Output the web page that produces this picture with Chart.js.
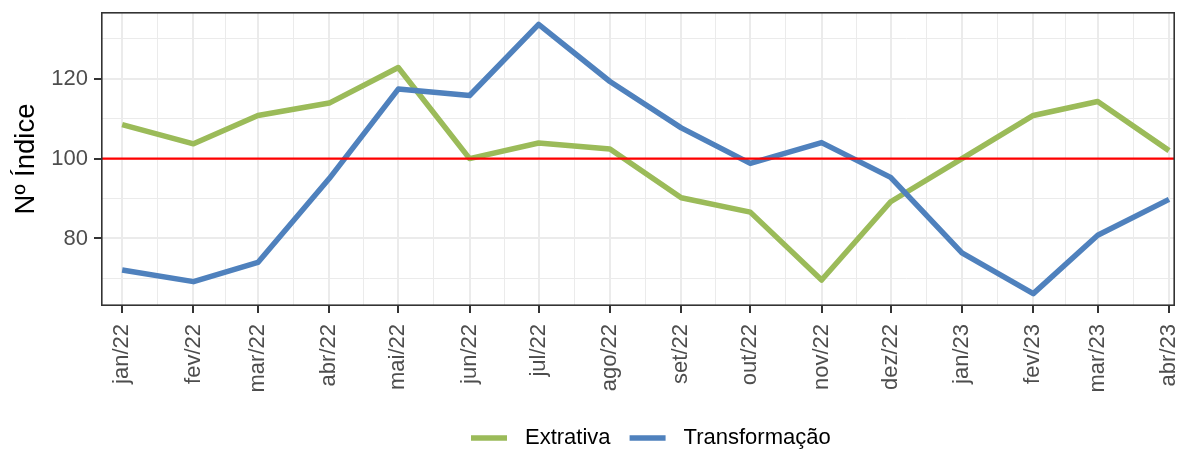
<!DOCTYPE html>
<html>
<head>
<meta charset="utf-8">
<script src="https://cdn.jsdelivr.net/npm/chart.js@4"></script>
<style>
  html, body { margin: 0; padding: 0; background: #fff; }
  #wrap { width: 1179px; height: 450px; }
</style>
</head>
<body>
<div id="wrap"><canvas id="chart"></canvas></div>
<script>
// months shown on the x axis
const monthLabels = ["jan/22", "fev/22", "mar/22", "abr/22", "mai/22", "jun/22", "jul/22", "ago/22",
  "set/22", "out/22", "nov/22", "dez/22", "jan/23", "fev/23", "mar/23", "abr/23"];
const monthDates = ["2022-01-01", "2022-02-01", "2022-03-01", "2022-04-01", "2022-05-01", "2022-06-01",
  "2022-07-01", "2022-08-01", "2022-09-01", "2022-10-01", "2022-11-01", "2022-12-01",
  "2023-01-01", "2023-02-01", "2023-03-01", "2023-04-01"];

const extrativa = [108.5, 103.7, 110.8, 113.9, 122.8, 100.0, 103.9, 102.4, 90.2, 86.6, 69.6, 89.2, 100.0, 110.8, 114.3, 102.0];
const transformacao = [72.1, 69.2, 74.0, 95.0, 117.4, 115.8, 133.6, 119.3, 107.7, 98.8, 104.0, 95.3, 76.4, 66.2, 80.8, 89.8];

const refValue = 100;
const yMajor = [80, 100, 120];
const yMinor = [70, 90, 110, 130];

const FONT = "'Liberation Sans', Arial, Helvetica, sans-serif";
const GREEN = "#9BBB59";
const BLUE = "#4F81BD";

const dayMs = 86400000;
const origin = Date.parse(monthDates[0]);
const monthDays = monthDates.map(d => (Date.parse(d) - origin) / dayMs);
const xMin = -9.2, xMax = 457.6;

const toPoints = vals => vals.map((v, i) => ({ x: monthDays[i], y: v }));

// dark box round the panel (theme_bw look)
const frame = {
  id: "frame",
  afterDraw(chart) {
    const a = chart.chartArea, ctx = chart.ctx;
    ctx.save();
    ctx.strokeStyle = "#333333";
    ctx.lineWidth = 1.6;
    ctx.strokeRect(a.left + 0.8, a.top + 0.8, a.right - a.left - 1.6, a.bottom - a.top - 1.6);
    ctx.restore();
  }
};

const legendBottom = {
  id: "legendBottom",
  afterDraw(chart) {
    const ctx = chart.ctx;
    const items = [
      { text: "Extrativa", color: GREEN },
      { text: "Transformação", color: BLUE }
    ];
    ctx.save();
    ctx.font = "22px " + FONT;
    ctx.textBaseline = "middle";
    ctx.textAlign = "left";
    let x = 471;
    const y = 438;
    items.forEach(it => {
      ctx.fillStyle = it.color;
      ctx.fillRect(x, y - 2.75, 36, 5.5);
      x += 36 + 18;
      ctx.fillStyle = "#000";
      ctx.fillText(it.text, x, y);
      x += ctx.measureText(it.text).width + 19;
    });
    ctx.restore();
  }
};

new Chart(document.getElementById("chart"), {
  type: "line",
  data: {
    datasets: [
      {
        label: "ref",
        data: [{ x: xMin, y: refValue }, { x: xMax, y: refValue }],
        borderColor: "#FF0000",
        borderWidth: 2.2,
        pointRadius: 0,
        order: 0
      },
      {
        label: "Transformação",
        data: toPoints(transformacao),
        borderColor: BLUE,
        backgroundColor: BLUE,
        borderWidth: 5.5,
        pointRadius: 0,
        borderJoinStyle: "round",
        borderCapStyle: "butt",
        order: 1
      },
      {
        label: "Extrativa",
        data: toPoints(extrativa),
        borderColor: GREEN,
        backgroundColor: GREEN,
        borderWidth: 5.5,
        pointRadius: 0,
        borderJoinStyle: "round",
        borderCapStyle: "butt",
        order: 2
      }
    ]
  },
  options: {
    responsive: true,
    maintainAspectRatio: false,
    animation: false,
    layout: { padding: { top: 12, right: 4, bottom: 44, left: 0 } },
    plugins: {
      legend: { display: false },
      tooltip: { enabled: false }
    },
    scales: {
      x: {
        type: "linear",
        min: xMin,
        max: xMax,
        afterBuildTicks(scale) {
          const t = [];
          monthDays.forEach((d, i) => {
            t.push({ value: d, minor: false, label: monthLabels[i] });
            if (i < monthDays.length - 1) t.push({ value: (d + monthDays[i + 1]) / 2, minor: true });
          });
          scale.ticks = t;
        },
        afterFit(scale) {
          scale.height = 100;
          scale.paddingLeft = 0;
          scale.paddingRight = 0;
        },
        ticks: {
          autoSkip: false,
          minRotation: 90,
          maxRotation: 90,
          padding: 11,
          color: "#4D4D4D",
          font: { family: FONT, size: 22 },
          callback(value, index, ticks) {
            const t = ticks[index];
            return t.minor ? "" : t.label;
          }
        },
        grid: {
          color: "#EBEBEB",
          lineWidth: ctx => (ctx.tick && ctx.tick.minor ? 1 : 2),
          tickLength: 7,
          tickColor: ctx => (ctx.tick && ctx.tick.minor ? "rgba(0,0,0,0)" : "#333333"),
          tickWidth: 2
        },
        border: { display: false }
      },
      y: {
        min: 63.1,
        max: 136.7,
        afterBuildTicks(scale) {
          const t = yMinor.map(v => ({ value: v, minor: true }))
            .concat(yMajor.map(v => ({ value: v, minor: false })));
          t.sort((a, b) => a.value - b.value);
          scale.ticks = t;
        },
        afterFit(scale) {
          scale.width = 101;
          scale.paddingTop = 0;
          scale.paddingBottom = 0;
        },
        ticks: {
          padding: 6,
          color: "#4D4D4D",
          font: { family: FONT, size: 22 },
          callback(value, index, ticks) {
            return ticks[index].minor ? "" : String(value);
          }
        },
        grid: {
          color: "#EBEBEB",
          lineWidth: ctx => (ctx.tick && ctx.tick.minor ? 1 : 2),
          tickLength: 7,
          tickColor: ctx => (ctx.tick && ctx.tick.minor ? "rgba(0,0,0,0)" : "#333333"),
          tickWidth: 2
        },
        border: { display: false },
        title: {
          display: true,
          text: "Nº Índice",
          color: "#000",
          font: { family: FONT, size: 27.5 },
          padding: { top: 10, bottom: 0 }
        }
      }
    }
  },
  plugins: [frame, legendBottom]
});
</script>
</body>
</html>
